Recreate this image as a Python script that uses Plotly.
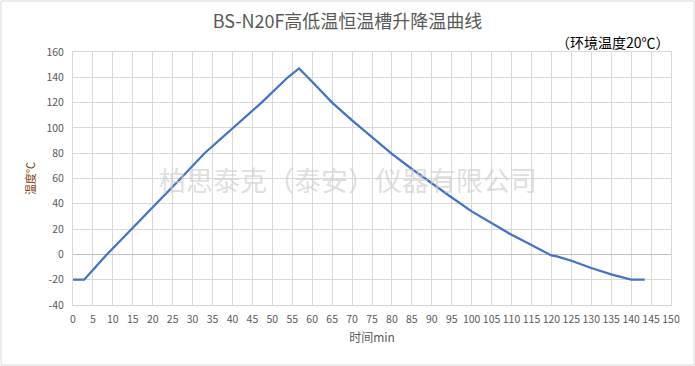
import plotly.graph_objects as go

# Data
time_min = [0, 2.8, 8.5, 14.7, 21.0, 27.0, 33.0, 40.1, 47.3, 53.9, 56.7,
            60, 65, 70, 75, 80, 85, 90, 95, 100, 105, 110, 115,
            120.0, 121.4, 125, 130, 135, 140.0, 143.4]
temp_c = [-20, -20, 0, 20, 40, 60, 80, 100, 120, 140, 147,
          136.5, 120, 106, 92.5, 79.5, 67.5, 56, 45, 34, 24.5, 15.5, 7.5,
          -0.8, -1.5, -5, -10.8, -15.8, -20, -20]

x_ticks = list(range(0, 151, 5))
y_ticks = list(range(-40, 161, 20))

title_text = "BS-N20F高低温恒温槽升降温曲线"
note_text = "（环境温度20℃）"
watermark_text = "柏思泰克（泰安）仪器有限公司"
x_title = "时间min"
y_title = "温度℃"

W, H = 695, 366
ML, MR, MT, MB = 73, 24, 52, 61
pw = W - ML - MR
ph = H - MT - MB

fig = go.Figure()
fig.add_trace(go.Scatter(
    x=time_min, y=temp_c, mode="lines",
    line=dict(color="#4472C4", width=2.25),
    hoverinfo="x+y", showlegend=False,
))

font_family = "Noto Sans CJK SC, Noto Sans, sans-serif"

fig.update_layout(
    width=W, height=H,
    margin=dict(l=ML, r=MR, t=MT, b=MB, autoexpand=False),
    paper_bgcolor="white", plot_bgcolor="white",
    font=dict(family=font_family, color="#595959", size=11),
    title=dict(text=title_text, x=0.5, xanchor="center", y=1 - 22 / H,
               yanchor="middle", automargin=False,
               font=dict(size=18, color="#595959")),
    xaxis=dict(
        range=[0, 150], tickmode="array", tickvals=x_ticks,
        ticktext=[str(v) for v in x_ticks], tickangle=0, automargin=False,
        showgrid=True, gridcolor="#d9d9d9", gridwidth=1,
        zeroline=False, showline=True, linecolor="#d9d9d9", mirror=True,
        ticks="", ticklabelstandoff=4, tickfont=dict(size=10.5, color="#595959"),
        title=dict(text=x_title, font=dict(size=12, color="#595959"), standoff=9),
        fixedrange=True,
    ),
    yaxis=dict(
        range=[-40, 160], tickmode="array", tickvals=y_ticks,
        ticktext=[str(v) for v in y_ticks], automargin=False,
        showgrid=True, gridcolor="#d9d9d9", gridwidth=1,
        zeroline=True, zerolinecolor="#bfbfbf", zerolinewidth=1,
        showline=True, linecolor="#d9d9d9", mirror=True,
        ticks="", ticklabelstandoff=6, tickfont=dict(size=10.5, color="#595959"),
        title=dict(text=y_title, font=dict(size=11, color="#843C0C"), standoff=8),
        fixedrange=True,
    ),
)

fig.add_annotation(
    text=note_text, xref="paper", yref="paper",
    x=(672 - ML) / pw, y=1 + (MT - 42) / ph, xanchor="right", yanchor="middle",
    showarrow=False, font=dict(size=14, color="#000000"),
)

fig.add_annotation(
    text=watermark_text, xref="paper", yref="paper",
    x=(348 - ML) / pw, y=1 - (179 - MT) / ph, xanchor="center", yanchor="middle",
    showarrow=False, font=dict(size=27, color="rgba(205,205,205,0.65)"),
)

# outer chart border
fig.add_shape(
    type="rect", xref="paper", yref="paper",
    x0=-(ML - 1) / pw, x1=1 + (MR - 1) / pw,
    y0=-(MB - 1) / ph, y1=1 + (MT - 1) / ph,
    line=dict(color="#d9d9d9", width=1), layer="below",
)

fig.write_html(
    "out.html",
    config={"displayModeBar": False},
    post_script="document.body.style.margin='0';document.body.style.overflow='hidden';",
)
